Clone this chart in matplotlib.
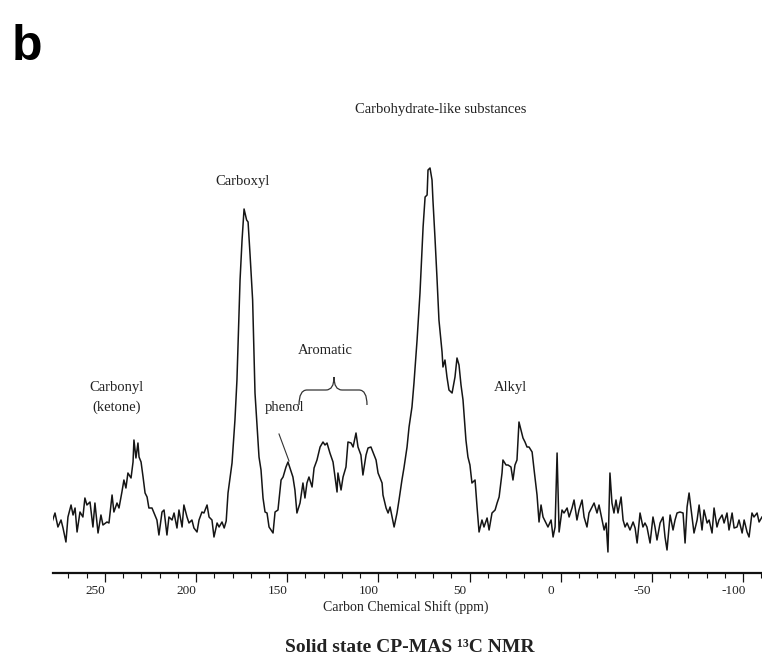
import numpy as np
import matplotlib
matplotlib.use("Agg")
import matplotlib.pyplot as plt
from matplotlib.path import Path
from matplotlib.patches import PathPatch
from matplotlib.lines import Line2D
import matplotlib.transforms as mtransforms

# ---------------- data ----------------
shift_ppm = [
    279.2, 277.4, 275.8, 274.1, 273.0, 271.4, 270.3, 268.6, 267.5, 266.4,
    265.3, 263.7, 262.1, 261.0, 259.9, 258.2, 256.6, 255.5, 253.8, 252.2,
    251.1, 248.9, 247.8, 246.1, 245.1, 243.4, 242.3, 240.7, 239.6, 238.5,
    237.4, 235.7, 234.6, 234.1, 233.0, 231.9, 231.3, 230.2, 229.1, 228.0,
    226.9, 225.9, 224.2, 223.1, 221.5, 220.4, 218.7, 217.6, 216.0, 214.9,
    213.2, 212.1, 210.5, 209.4, 207.7, 206.7, 205.0, 203.9, 202.3, 201.2,
    199.5, 198.4, 196.8, 195.7, 194.0, 192.9, 191.3, 190.2, 188.5, 187.4,
    185.8, 184.6, 183.5, 182.5, 180.3, 178.7, 177.6, 175.9, 174.8, 173.7,
    172.3, 171.5, 170.4, 169.0, 167.7, 166.6, 165.5, 164.4, 163.3, 162.2,
    161.1, 160.0, 157.8, 156.7, 155.1, 153.4, 152.3, 150.7, 149.6, 148.5,
    146.9, 145.8, 144.7, 143.0, 141.4, 140.3, 139.2, 138.1, 136.4, 135.3,
    133.7, 132.0, 130.4, 129.3, 128.2, 126.6, 124.9, 123.8, 122.7, 122.2,
    120.5, 119.4, 117.8, 116.7, 115.0, 113.9, 112.3, 111.2, 109.6, 108.5,
    106.8, 105.7, 104.1, 103.0, 101.3, 100.2, 98.0, 97.5, 95.8, 94.7,
    93.6, 92.5, 91.4, 89.8, 88.7, 87.1, 86.0, 84.3, 83.2, 81.6,
    80.5, 78.8, 77.2, 75.5, 74.4, 73.3, 72.8, 71.7, 70.6, 70.1,
    69.0, 67.9, 66.8, 65.1, 64.6, 63.5, 62.4, 61.3, 59.6, 58.0,
    56.9, 55.8, 54.7, 53.6, 52.0, 50.9, 49.8, 48.7, 47.0, 45.9,
    44.8, 43.2, 42.1, 40.4, 39.3, 37.7, 36.0, 34.9, 33.8, 32.2,
    31.7, 30.0, 28.9, 27.3, 26.2, 25.1, 24.0, 22.9, 21.8, 20.7,
    19.6, 18.5, 17.4, 15.7, 14.6, 13.0, 11.9, 10.8, 9.7, 8.1,
    7.0, 5.3, 4.2, 3.1, 2.0, 0.9, -0.7, -1.8, -3.5, -4.6,
    -6.2, -7.3, -8.9, -10.0, -11.7, -12.8, -14.4, -15.5, -17.2, -18.3,
    -19.9, -21.0, -22.7, -23.8, -24.9, -25.9, -27.0, -28.1, -29.2, -30.3,
    -31.4, -33.1, -34.2, -35.3, -36.4, -38.0, -39.7, -40.8, -41.9, -43.5,
    -45.1, -46.2, -47.3, -49.0, -50.6, -51.7, -52.8, -54.5, -56.1, -57.2,
    -58.3, -60.0, -61.6, -62.7, -63.8, -65.4, -67.1, -68.2, -69.3, -70.4,
    -72.0, -73.1, -74.8, -75.9, -77.5, -78.6, -80.3, -81.4, -83.0, -84.1,
    -85.7, -86.8, -88.5, -89.6, -91.2, -92.3, -94.0, -95.1, -96.7, -97.8,
    -99.5, -100.6, -102.2, -103.3, -104.9, -106.0, -107.7, -108.8, -110.4,
]

intensity = [
    -3, 7, -7, 0, -8, -22, 3, 15, 5, 12,
    -12, 8, 3, 22, 15, 18, -7, 17, -13, 5,
    -5, -2, -3, 25, 8, 17, 12, 28, 40, 32,
    47, 42, 58, 80, 62, 77, 63, 58, 43, 27,
    23, 12, 12, 7, 0, -15, 8, 10, -15, 3,
    0, 7, -8, 10, -7, 15, 3, -3, 0, -8,
    -12, 0, 8, 7, 15, 3, 0, -17, -3, -7,
    -2, -8, -1, 27, 57, 100, 140, 240, 280, 311,
    300, 298, 265, 220, 127, 95, 63, 50, 22, 8,
    7, -7, -13, 8, 10, 40, 43, 53, 58, 52,
    43, 30, 7, 17, 37, 22, 37, 43, 33, 52,
    60, 73, 78, 75, 77, 67, 58, 43, 28, 47,
    30, 43, 53, 78, 77, 73, 87, 73, 65, 45,
    65, 72, 73, 68, 60, 47, 37, 25, 12, 7,
    13, 3, -7, 7, 20, 40, 52, 73, 93, 113,
    137, 180, 227, 293, 323, 325, 350, 352, 340, 320,
    283, 243, 200, 168, 153, 160, 143, 130, 127, 143,
    162, 155, 135, 120, 80, 63, 55, 37, 40, 13,
    -12, 0, -7, 2, -10, 7, 10, 17, 23, 47,
    60, 55, 55, 53, 40, 55, 60, 98, 90, 82,
    78, 73, 73, 68, 50, 25, -2, 15, 3, -3,
    -7, 0, -17, -7, 67, -12, 10, 7, 12, 3,
    12, 20, 0, 10, 20, 3, -7, 7, 13, 17,
    7, 15, 0, -10, -3, -32, 47, 17, 7, 20,
    7, 23, 0, -7, -3, -10, -2, -8, -23, 7,
    -7, -3, -7, -23, 3, -7, -20, -3, 3, -17,
    -30, 5, -10, 0, 7, 8, 7, -23, 13, 27,
    3, -13, 0, 15, -10, 10, -3, 0, -13, 12,
    -7, 0, 5, -3, 7, -10, 7, -8, -7, 0,
    -13, 0, -12, -17, 7, 3, 7, -2, 3,
]

major_ticks = [250, 200, 150, 100, 50, 0, -50, -100]
tick_labels = ["250", "200", "150", "100", "50", "0", "-50", "-100"]
minor_ticks = [270, 260, 240, 230, 220, 210, 190, 180, 170, 160, 140, 130,
               120, 110, 90, 80, 70, 60, 40, 30, 20, 10, -10, -20, -30, -40,
               -60, -70, -80, -90, -110]

# ---------------- figure ----------------
W, H = 762, 669
SERIF = ["Liberation Serif", "DejaVu Serif"]
TXT = "#222222"

fig = plt.figure(figsize=(W / 100, H / 100), dpi=100)


def fx(x):
    return x / W


def fy(y):
    return 1 - y / H


ax = fig.add_axes([fx(53), fy(573), fx(762) - fx(53), fy(140) - fy(573)])
ax.plot(shift_ppm, intensity, color="#151515", lw=1.1, solid_joinstyle="round")
ax.set_xlim(278.5, -110.4)
ax.set_ylim(-53, 380)

for s in ("left", "right", "top"):
    ax.spines[s].set_visible(False)
ax.spines["bottom"].set_linewidth(1.6)
ax.spines["bottom"].set_color("#111111")
ax.set_yticks([])

ax.set_xticks(major_ticks)
ax.set_xticklabels(tick_labels, fontfamily=SERIF, fontsize=9.5, color=TXT)
ax.set_xticks(minor_ticks, minor=True)
ax.tick_params(axis="x", which="major", length=6.5, width=0.9, direction="out",
               pad=2.5, color="#111111")
ax.tick_params(axis="x", which="minor", length=3.6, width=0.8, direction="out",
               color="#111111")
offset = mtransforms.ScaledTranslation(-9.5 / 100, 0, fig.dpi_scale_trans)
for lbl in ax.get_xticklabels():
    lbl.set_transform(lbl.get_transform() + offset)

# ---------------- annotations ----------------
fig.text(fx(12), fy(60), "b", fontsize=36, fontweight="bold",
         fontfamily=["Liberation Sans", "DejaVu Sans"], ha="left", va="baseline")

def label(x, y, s, size=10.5, **kw):
    fig.text(fx(x), fy(y), s, fontsize=size, fontfamily=SERIF, color=TXT,
             ha="center", va="center", **kw)

label(441, 110, "Carbohydrate-like substances")
label(243, 181, "Carboxyl")
label(325, 350, "Aromatic")
label(285, 407, "phenol")
label(117, 388, "Carbonyl")
label(117, 407, "(ketone)")
label(510, 388, "Alkyl")
label(406, 607, "Carbon Chemical Shift (ppm)", size=10)
label(410, 648, "Solid state CP-MAS \u00b9\u00b3C NMR", size=14, fontweight="bold")

# brace over the aromatic region
bx = [299, 299, 306, 328, 334, 334, 334, 340, 361, 367, 367]
by = [405, 390, 390, 390, 390, 377, 390, 390, 390, 390, 405]
verts = [
    (fx(299), fy(405)),
    (fx(299), fy(390)), (fx(307), fy(390)),
    (fx(326), fy(390)),
    (fx(334), fy(390)), (fx(334), fy(377)),
    (fx(334), fy(390)), (fx(342), fy(390)),
    (fx(359), fy(390)),
    (fx(367), fy(390)), (fx(367), fy(405)),
]
codes = [Path.MOVETO,
         Path.CURVE3, Path.CURVE3,
         Path.LINETO,
         Path.CURVE3, Path.CURVE3,
         Path.CURVE3, Path.CURVE3,
         Path.LINETO,
         Path.CURVE3, Path.CURVE3]
fig.add_artist(PathPatch(Path(verts, codes), transform=fig.transFigure,
                         fill=False, lw=0.9, edgecolor="#333333"))

# phenol pointer
fig.add_artist(Line2D([fx(279), fx(289)], [fy(434), fy(461)],
                      transform=fig.transFigure, lw=0.8, color="#333333"))

fig.savefig("out.png", dpi=100, facecolor="white")
